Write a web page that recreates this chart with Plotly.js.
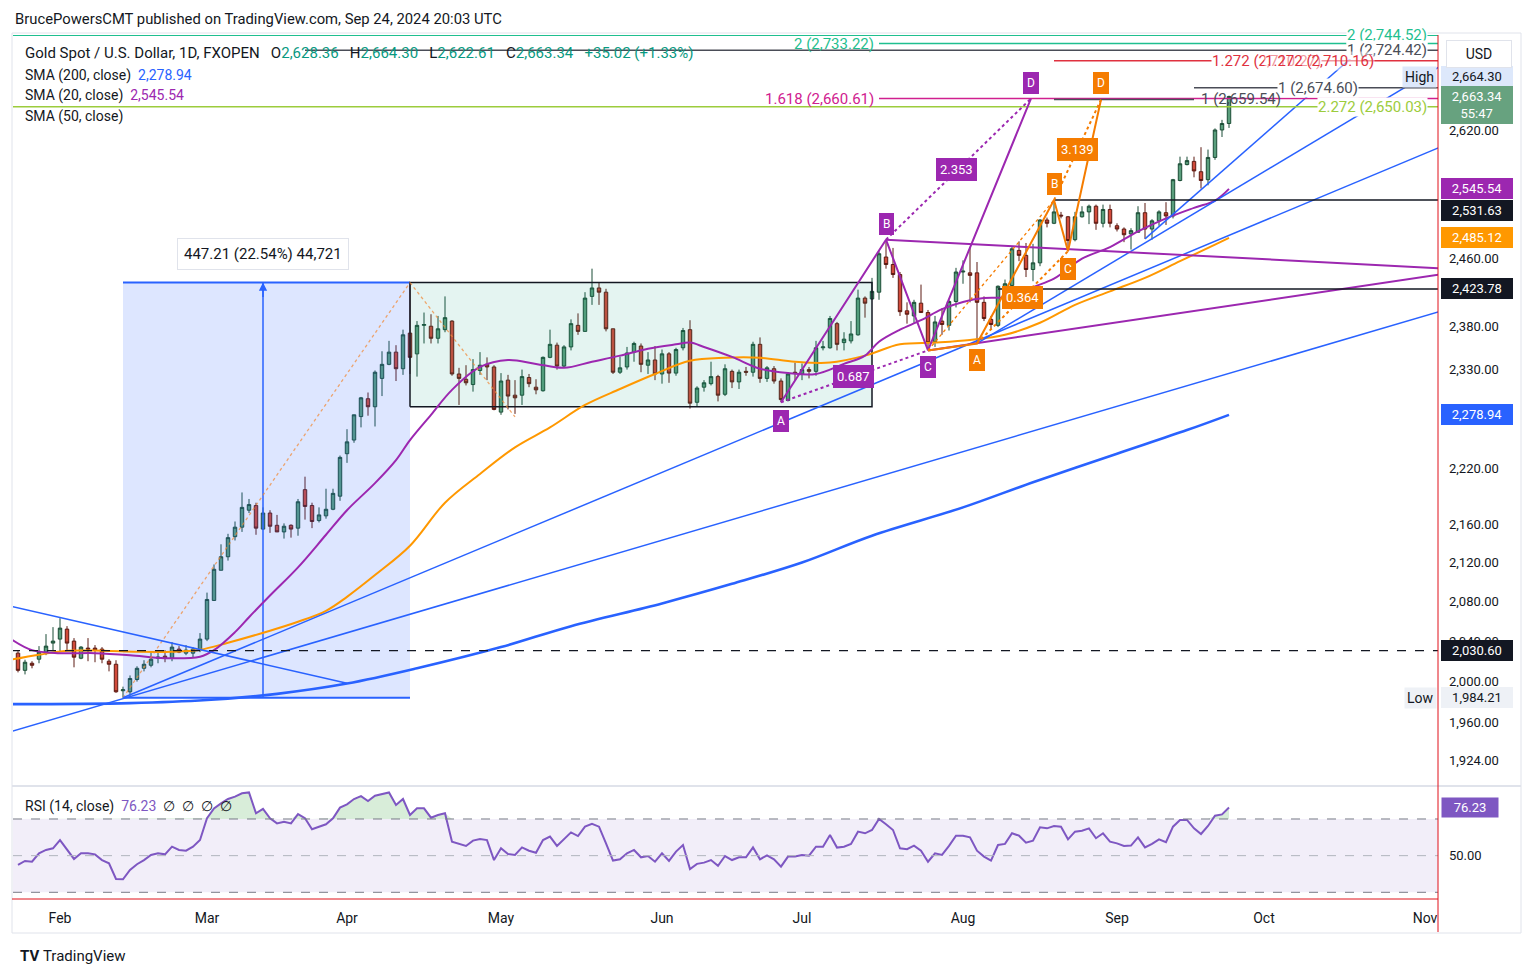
<!DOCTYPE html>
<html>
<head>
<meta charset="utf-8">
<script src="https://cdn.plot.ly/plotly-3.0.1.min.js"></script>
<style>
  html, body { margin: 0; padding: 0; background: #fff; }
  #plot { width: 1533px; height: 978px; }
</style>
</head>
<body>
<div id="plot"></div>
<script>
// Gold Spot / U.S. Dollar, 1D, FXOPEN - 24 Jan to 24 Sep 2024

var opens = [
  2028, 2011, 2018, 2022, 2029, 2038,
  2042, 2052, 2040, 2023, 2033, 2033, 2032, 2020, 2017, 1991, 1990, 2002, 2013, 2016, 2023, 2025, 2023, 2032, 2028, 2028, 2031,
  2042, 2081, 2112, 2126, 2147, 2157, 2175, 2180, 2155, 2172, 2159, 2152, 2159, 2156, 2197, 2180, 2164, 2169, 2176, 2190,
  2236, 2251, 2277, 2297, 2288, 2320, 2336, 2350, 2331, 2372, 2348, 2381, 2380, 2366, 2376, 2386, 2325, 2319, 2313, 2329, 2336, 2333,
  2282, 2318, 2301, 2301, 2321, 2310, 2306, 2344, 2358, 2334, 2356, 2381, 2374, 2415, 2425, 2420, 2377, 2327, 2333, 2350, 2357, 2335, 2341,
  2325, 2348, 2326, 2355, 2376, 2293, 2310, 2314, 2322, 2302, 2328, 2316, 2328, 2327, 2359, 2320, 2331, 2317, 2295, 2327,
  2325, 2330, 2328, 2355, 2355, 2383, 2361, 2363, 2370, 2413, 2412, 2420, 2462, 2453, 2441, 2398, 2392, 2407, 2396, 2362, 2386, 2381, 2409,
  2444, 2443, 2443, 2408, 2388, 2381, 2425, 2428, 2470, 2464, 2447, 2455, 2507, 2503, 2513, 2511, 2483, 2511, 2517, 2524, 2503, 2520,
  2500, 2496, 2490, 2492, 2516, 2496, 2506, 2516, 2512, 2556, 2576, 2580, 2567, 2557, 2585, 2620, 2628.36
];
var highs = [
  2030, 2021.5, 2020, 2035, 2047, 2054,
  2063, 2055, 2043, 2035, 2043, 2036, 2034, 2022, 2021, 1995, 2006, 2015, 2021, 2029, 2030, 2031, 2039, 2035, 2036, 2034, 2048,
  2089, 2118, 2139, 2150, 2163, 2194, 2187, 2183, 2178, 2175, 2170, 2161, 2160, 2187, 2211, 2183, 2178, 2198, 2198, 2234,
  2263, 2279, 2299, 2304, 2329, 2351, 2363, 2358, 2376, 2431.42, 2386, 2396, 2394, 2392, 2415, 2387, 2332, 2335, 2342, 2350, 2344, 2335,
  2326, 2324, 2318, 2330, 2325, 2319, 2345, 2376, 2361, 2358, 2388, 2395, 2420, 2448, 2432, 2424, 2377, 2345, 2356, 2362, 2360, 2350, 2357,
  2353, 2350, 2355, 2378, 2387, 2311, 2318, 2339, 2324, 2336, 2330, 2330, 2333, 2362, 2367, 2334, 2334, 2320, 2327, 2338,
  2337, 2333, 2363, 2363, 2392, 2385, 2373, 2386, 2423, 2415, 2437, 2469, 2483, 2473, 2444, 2408, 2411, 2429, 2399, 2392, 2401, 2411, 2449,
  2458, 2474, 2456, 2415, 2392, 2428, 2435, 2475, 2481, 2479, 2478, 2508, 2510, 2531.63, 2517, 2512, 2517, 2524, 2526, 2526, 2526, 2526,
  2503, 2498, 2497, 2524, 2528, 2508, 2519, 2529, 2558, 2586, 2586, 2586, 2598, 2595, 2622, 2633, 2664.30
];
var lows = [
  2009, 2007, 2013, 2018, 2026, 2031,
  2029, 2031, 2014, 2022, 2020, 2019, 2018, 2010, 1989, 1984.21, 1986, 2000, 2010, 2014, 2018, 2019, 2020, 2028, 2026, 2024, 2029,
  2040, 2081, 2112, 2122, 2143, 2152, 2172, 2149, 2154, 2151, 2152, 2145, 2146, 2148, 2165, 2156, 2162, 2166, 2175, 2185,
  2226, 2248, 2265, 2278, 2266, 2300, 2335, 2317, 2324, 2325, 2322, 2360, 2360, 2360, 2373, 2323, 2290, 2312, 2305, 2324, 2318, 2284,
  2279, 2285, 2280, 2290, 2310, 2302, 2305, 2343, 2330, 2332, 2352, 2370, 2374, 2405, 2405, 2374, 2325, 2325, 2330, 2339, 2327, 2325, 2318,
  2314, 2315, 2323, 2352, 2286, 2288, 2305, 2312, 2294, 2300, 2309, 2308, 2323, 2322, 2315, 2316, 2314, 2293, 2294, 2318,
  2318, 2320, 2323, 2352, 2354, 2352, 2352, 2360, 2369, 2390, 2411, 2411, 2448, 2437, 2392, 2383, 2384, 2396, 2353, 2356, 2370, 2375, 2402,
  2430, 2408, 2360, 2386, 2377, 2379, 2423, 2423, 2457, 2438, 2433, 2451, 2498, 2502, 2509, 2469, 2481, 2510, 2502, 2495, 2498, 2498,
  2493, 2480, 2471, 2492, 2484, 2483, 2500, 2501, 2509, 2555, 2575, 2560, 2546, 2550, 2582, 2611, 2622.61
];
var closes = [
  2011, 2019, 2016, 2029, 2035, 2040,
  2053, 2038, 2024, 2034, 2032, 2031, 2022, 2017, 1990, 1992, 2003, 2013, 2017, 2022, 2024, 2023, 2034, 2029, 2031, 2032, 2042,
  2082, 2113, 2126, 2146, 2157, 2178, 2181, 2156, 2172, 2158, 2152, 2158, 2155, 2184, 2179, 2163, 2170, 2176, 2193, 2232,
  2249, 2279, 2298, 2288, 2327, 2336, 2350, 2331, 2370, 2344, 2381, 2382, 2366, 2377, 2390, 2325, 2320, 2315, 2330, 2335, 2333, 2285,
  2317, 2300, 2298, 2322, 2314, 2307, 2344, 2359, 2334, 2356, 2383, 2374, 2413, 2425, 2420, 2377, 2327, 2332, 2349, 2360, 2336, 2341, 2325,
  2348, 2326, 2353, 2375, 2292, 2309, 2315, 2322, 2301, 2331, 2316, 2327, 2327, 2359, 2320, 2332, 2317, 2296, 2325, 2326,
  2330, 2328, 2355, 2356, 2389, 2359, 2365, 2371, 2413, 2407, 2421, 2466, 2453, 2441, 2397, 2394, 2408, 2396, 2361, 2385, 2382, 2409, 2444,
  2445, 2440, 2408, 2389, 2382, 2427, 2430, 2472, 2464, 2447, 2455, 2507, 2503, 2517, 2512, 2482, 2511, 2517, 2524, 2503, 2520, 2503,
  2496, 2489, 2494, 2516, 2496, 2506, 2517, 2512, 2557, 2577, 2581, 2568, 2556, 2585, 2620, 2628.32, 2663.34
];
var rsi = [
  44.9, 47.1, 46.7, 51.3, 53.1, 54.0,
  58.5, 53.1, 48.2, 51.3, 51.3, 50.7, 47.6, 45.8, 37.3, 37.1, 42.2, 45.3, 47.6, 50.4, 51.3, 50.7, 54.9, 53.1, 52.7, 54.9, 58.5,
  70.4, 75.8, 78.5, 80.9, 82.2, 84.0, 84.5, 73.1, 75.5, 70.4, 67.6, 68.5, 67.6, 72.7, 70.4, 64.4, 65.8, 67.1, 70.4, 76.2,
  78.0, 80.9, 82.5, 79.8, 82.7, 83.5, 84.5, 77.6, 80.9, 72.2, 75.8, 75.8, 70.7, 72.2, 73.1, 57.6, 56.4, 55.3, 58.2, 59.1, 58.5, 47.6,
  54.0, 50.9, 50.4, 54.5, 52.7, 51.6, 58.5, 60.4, 55.3, 59.1, 62.7, 60.7, 65.8, 67.3, 65.8, 56.7, 47.3, 48.0, 51.3, 53.1, 49.1, 49.8, 46.7,
  51.3, 47.1, 52.2, 55.8, 42.7, 45.5, 46.2, 47.6, 44.5, 49.8, 47.6, 49.1, 49.1, 54.5, 48.0, 50.2, 48.0, 44.0, 49.5, 49.5,
  50.4, 50.0, 54.9, 54.9, 61.3, 54.4, 54.9, 56.4, 63.1, 62.2, 64.0, 70.0, 67.1, 64.0, 54.0, 53.5, 55.5, 52.7, 46.7, 51.3, 50.4, 55.3, 60.9,
  60.9, 60.0, 52.7, 49.5, 47.3, 55.8, 56.4, 62.2, 60.9, 57.1, 58.2, 65.5, 64.9, 66.2, 65.8, 58.9, 63.1, 63.6, 64.9, 59.5, 62.2, 57.6,
  56.7, 55.3, 55.5, 60.0, 54.5, 56.4, 58.9, 57.3, 65.8, 69.5, 69.5, 64.9, 61.8, 66.2, 71.8, 72.5, 76.23
];

// moving averages, read at sample points
var sma20Dates = ['2024-01-23','2024-01-26','2024-02-01','2024-02-08','2024-02-15','2024-02-22','2024-02-29','2024-03-04','2024-03-07','2024-03-11','2024-03-14','2024-03-20','2024-03-26','2024-04-01','2024-04-05','2024-04-10','2024-04-12','2024-04-17','2024-04-22','2024-04-26','2024-05-02','2024-05-08','2024-05-14','2024-05-20','2024-05-24','2024-05-30','2024-06-05','2024-06-07','2024-06-11','2024-06-17','2024-06-21','2024-06-27','2024-07-03','2024-07-09','2024-07-12','2024-07-16','2024-07-19','2024-07-24','2024-07-29','2024-08-01','2024-08-06','2024-08-12','2024-08-15','2024-08-20','2024-08-26','2024-08-30','2024-09-05','2024-09-11','2024-09-17','2024-09-20','2024-09-24'];
var sma20 = [2042, 2031, 2028, 2028, 2026, 2023, 2024.5, 2031, 2049, 2064, 2086, 2115, 2149, 2175, 2204, 2229, 2251, 2279, 2307, 2333, 2341, 2336.5, 2332, 2339, 2346, 2354, 2359, 2361, 2356, 2344.5, 2331, 2326, 2325, 2336.5, 2346, 2362, 2376, 2387, 2400, 2408.5, 2413, 2414.5, 2426, 2436, 2460, 2474, 2493, 2509, 2522, 2531, 2545.54];
var sma50Dates = ['2024-01-23','2024-01-29','2024-02-02','2024-02-09','2024-02-16','2024-02-23','2024-02-29','2024-03-06','2024-03-14','2024-03-20','2024-03-26','2024-04-01','2024-04-05','2024-04-12','2024-04-19','2024-04-26','2024-05-03','2024-05-10','2024-05-17','2024-05-24','2024-05-31','2024-06-07','2024-06-14','2024-06-21','2024-06-28','2024-07-05','2024-07-12','2024-07-19','2024-07-26','2024-08-02','2024-08-09','2024-08-16','2024-08-23','2024-08-30','2024-09-06','2024-09-13','2024-09-20','2024-09-24'];
var sma50 = [2021.5, 2026.4, 2030.4, 2030.4, 2029.4, 2029.4, 2031.4, 2038.4, 2050.4, 2059.4, 2070.5, 2084.7, 2107, 2137.5, 2183, 2214, 2243, 2265, 2290, 2308, 2325, 2340, 2343.5, 2343.5, 2339, 2338, 2346, 2359, 2361, 2364, 2370, 2384, 2405, 2421, 2437, 2457, 2477, 2485.12];
var sma200Dates = ['2024-01-23','2024-02-15','2024-03-01','2024-03-15','2024-04-01','2024-04-15','2024-05-01','2024-05-15','2024-06-03','2024-06-17','2024-07-01','2024-07-15','2024-08-01','2024-08-15','2024-09-02','2024-09-16','2024-09-24'];
var sma200 = [1978, 1979, 1982, 1988, 1998, 2013, 2034, 2055, 2078, 2098, 2120, 2148, 2178, 2205, 2236, 2262, 2278.94];

// drawings
var trendBlue = [
  {d: ['2024-01-23', '2024-11-05'], p: [1951.6, 2397.0]},
  {d: ['2024-02-14', '2024-11-05'], p: [1984.21, 2597.5]},
  {d: ['2024-09-06', '2024-10-23'], p: [2484, 2743]},
  {d: ['2024-08-05', '2024-11-05'], p: [2360, 2702]},
  {d: ['2024-01-23', '2024-04-01'], p: [2075, 1998.4]}
];
var trendPurple = [
  {d: ['2024-07-17', '2024-11-05'], p: [2483, 2448.6]},
  {d: ['2024-07-25', '2024-11-05'], p: [2352, 2440.8]}
];
var purpleDates = ['2024-06-26', '2024-07-17', '2024-07-25', '2024-08-14 17:00'];
var purplePrices = [2293, 2483, 2352, 2660.61];
var orangeDates = ['2024-07-25', '2024-08-05', '2024-08-20', '2024-08-22', '2024-08-28 17:00'];
var orangePrices = [2352, 2360, 2531.63, 2469, 2659];

var measureDates = ['2024-02-14', '2024-04-12'];
var measureArrowDate = '2024-03-13';
var boxDates = ['2024-04-12', '2024-07-15'];
var boxPrices = [2288, 2431.42];
var retraceDates = ['2024-04-12', '2024-05-03'];
var retracePrices = [2431.42, 2276.7];

var levelPrices = [2531.63, 2423.78];
var levelStarts = ['2024-08-20', '2024-08-08'];
var dashedLevel = 2030.60;

var fibPrices = [2744.52, 2733.22, 2724.42, 2710.27, 2674.60, 2660.61, 2659.54, 2650.03];
var fibStarts = ['2024-01-23', '2024-07-16', '2024-03-21', '2024-08-20', '2024-09-17', '2024-07-16', '2024-08-20', '2024-01-23'];
var fibEnds   = ['2024-11-05', '2024-11-05', '2024-11-05', '2024-11-05', '2024-11-05', '2024-11-05', '2024-09-17', '2024-11-05'];
var fibColors = ['#1fbf8f', '#1fbf8f', '#4a4d57', '#e0313f', '#4a4d57', '#d0208f', '#4a4d57', '#9ccc3c'];

var yTicks = [1924, 1960, 2000, 2040, 2080, 2120, 2160, 2220, 2330, 2380, 2460, 2620];
var monthTicks = ['2024-02-01','2024-03-01','2024-04-01','2024-05-01','2024-06-03','2024-07-01','2024-08-01','2024-09-02','2024-10-01','2024-11-01'];
var monthNames = ['Feb','Mar','Apr','May','Jun','Jul','Aug','Sep','Oct','Nov'];

// trading days (weekdays, no Good Friday)
var holidays = ['2024-03-29'];
var dates = [];
var day = new Date(Date.UTC(2024, 0, 24));
while (day.getTime() <= Date.UTC(2024, 8, 24)) {
  var s = day.toISOString().slice(0, 10);
  var wd = day.getUTCDay();
  if (wd !== 0 && wd !== 6 && holidays.indexOf(s) < 0) dates.push(s);
  day.setUTCDate(day.getUTCDate() + 1);
}

var fmt = function (v) { return v.toLocaleString('en-US', {minimumFractionDigits: 2, maximumFractionDigits: 2}); };
var L10 = Math.log10;
var W = 1533, H = 978;
var px = function (x) { return x / W; };
var py = function (y) { return 1 - y / H; };

var n = closes.length;
var lastClose = closes[n - 1];
var change = lastClose - closes[n - 2];
var mLow = lows[dates.indexOf(measureDates[0])];
var mHigh = highs[dates.indexOf(measureDates[1])];

var BLUE = '#2962ff', PURPLE = '#9c27b0', ORANGE = '#ff9800', HORANGE = '#f57c00';

function seg(x, y, color, width, dash, yaxis) {
  return {type: 'scatter', mode: 'lines', x: x, y: y, yaxis: yaxis || 'y',
    line: {color: color, width: width, dash: dash || 'solid'}, hoverinfo: 'skip'};
}

var data = [];

// measure box
data.push({type: 'scatter', mode: 'lines', hoverinfo: 'skip',
  x: [measureDates[0], measureDates[1], measureDates[1], measureDates[0], measureDates[0]],
  y: [mLow, mLow, mHigh, mHigh, mLow], fill: 'toself', fillcolor: 'rgba(41,98,255,0.16)', line: {width: 0}});
data.push(seg(measureDates, [mHigh, mHigh], BLUE, 2));
data.push(seg(measureDates, [mLow, mLow], BLUE, 2));
data.push(seg([measureArrowDate, measureArrowDate], [mLow, mHigh], BLUE, 1.5));

// range box
data.push({type: 'scatter', mode: 'lines', hoverinfo: 'skip',
  x: [boxDates[0], boxDates[1], boxDates[1], boxDates[0], boxDates[0]],
  y: [boxPrices[0], boxPrices[0], boxPrices[1], boxPrices[1], boxPrices[0]],
  fill: 'toself', fillcolor: 'rgba(8,153,129,0.11)', line: {color: '#131722', width: 1.5}});

data.push({type: 'candlestick', x: dates, open: opens, high: highs, low: lows, close: closes,
  increasing: {line: {color: '#1b4d36', width: 1}, fillcolor: '#5a9e7c'},
  decreasing: {line: {color: '#5c1a12', width: 1}, fillcolor: '#d14a3a'},
  hoverinfo: 'skip', whiskerwidth: 0});

data.push({type: 'scatter', mode: 'lines', x: sma200Dates, y: sma200, line: {color: BLUE, width: 2.6, shape: 'spline'}, hoverinfo: 'skip'});
data.push({type: 'scatter', mode: 'lines', x: sma50Dates, y: sma50, line: {color: ORANGE, width: 2, shape: 'spline'}, hoverinfo: 'skip'});
data.push({type: 'scatter', mode: 'lines', x: sma20Dates, y: sma20, line: {color: PURPLE, width: 2, shape: 'spline'}, hoverinfo: 'skip'});

// dotted diagonals of the measure
data.push(seg([measureDates[0], measureDates[1]], [mLow, mHigh], 'rgba(240,140,60,0.75)', 1.3, 'dot'));
data.push(seg(retraceDates, retracePrices, 'rgba(240,140,60,0.75)', 1.3, 'dot'));

trendBlue.forEach(function (t) { data.push(seg(t.d, t.p, BLUE, 1.5)); });
trendPurple.forEach(function (t) { data.push(seg(t.d, t.p, PURPLE, 2)); });

// horizontal levels
data.push(seg(['2024-01-23', '2024-11-05'], [dashedLevel, dashedLevel], '#131722', 1.3, 'dash'));
levelPrices.forEach(function (p, i) { data.push(seg([levelStarts[i], '2024-11-05'], [p, p], '#131722', 1.6)); });
fibPrices.forEach(function (p, i) { data.push(seg([fibStarts[i], fibEnds[i]], [p, p], fibColors[i], 1.5)); });

// harmonic patterns
data.push(seg(purpleDates, purplePrices, PURPLE, 2));
data.push(seg([purpleDates[0], purpleDates[2]], [purplePrices[0], purplePrices[2]], PURPLE, 2, 'dot'));
data.push(seg([purpleDates[1], purpleDates[3]], [purplePrices[1], purplePrices[3]], PURPLE, 2, 'dot'));
data.push(seg(orangeDates, orangePrices, HORANGE, 2));
data.push(seg([orangeDates[0], orangeDates[2]], [orangePrices[0], orangePrices[2]], HORANGE, 1.3, 'dot'));
data.push(seg([orangeDates[1], orangeDates[3]], [orangePrices[1], orangePrices[3]], HORANGE, 2, 'dot'));
data.push(seg([orangeDates[2], orangeDates[4]], [orangePrices[2], orangePrices[4]], HORANGE, 2, 'dot'));

// RSI pane
var rsiTop = rsi.map(function (v) { return Math.max(v, 70); });
data.push({type: 'scatter', mode: 'lines', x: dates, y: dates.map(function () { return 70; }), yaxis: 'y2',
  line: {width: 0}, hoverinfo: 'skip'});
data.push({type: 'scatter', mode: 'lines', x: dates, y: rsiTop, yaxis: 'y2', fill: 'tonexty',
  fillcolor: 'rgba(76,175,80,0.22)', line: {width: 0}, hoverinfo: 'skip'});
data.push({type: 'scatter', mode: 'lines', x: dates, y: rsi, yaxis: 'y2',
  line: {color: '#7e57c2', width: 2}, hoverinfo: 'skip'});

// annotations
var ann = [];
var F = 'Roboto, "Liberation Sans", sans-serif';
var SP = '\u00a0\u00a0\u00a0';
function text(x, y, t, opts) {
  var a = {x: x, y: y, text: t, showarrow: false, xref: 'paper', yref: 'paper', xanchor: 'left', yanchor: 'middle',
    font: {family: F, size: 14, color: '#131722'}};
  for (var k in opts) a[k] = opts[k];
  return a;
}
function badge(x, price, t, bg, yshift, size) {
  return {x: x, y: L10(price), xref: 'x', yref: 'y', text: t, showarrow: false, yshift: yshift,
    bgcolor: bg, bordercolor: bg, borderpad: 3, font: {family: F, size: size || 12, color: '#ffffff'}};
}

ann.push(text(px(13), py(19), 'BrucePowersCMT published on TradingView.com, Sep 24, 2024 20:03 UTC',
  {font: {family: F, size: 14.8, color: '#131722'}}));
var G = function (v) { return '<span style="color:#089981">' + v + '</span>'; };
ann.push(text(px(23), py(53), 'Gold Spot / U.S. Dollar, 1D, FXOPEN' + SP + 'O' + G(fmt(opens[n - 1])) +
  SP + 'H' + G(fmt(highs[n - 1])) + SP + 'L' + G(fmt(lows[n - 1])) + SP + 'C' + G(fmt(lastClose)) +
  SP + G('+' + fmt(change) + ' (+' + (change / closes[n - 2] * 100).toFixed(2) + '%)'),
  {font: {family: F, size: 15, color: '#131722'}}));
ann.push(text(px(23), py(75), 'SMA (200, close)\u00a0\u00a0<span style="color:' + BLUE + '">' + fmt(sma200[sma200.length - 1]) + '</span>'));
ann.push(text(px(23), py(96), 'SMA (20, close)\u00a0\u00a0<span style="color:' + PURPLE + '">' + fmt(sma20[sma20.length - 1]) + '</span>'));
ann.push(text(px(23), py(117), 'SMA (50, close)'));
ann.push(text(px(23), py(806), 'RSI (14, close)\u00a0\u00a0<span style="color:#7e57c2">' + fmt(rsi[n - 1]) +
  '</span>\u00a0\u00a0\u2205\u00a0\u00a0\u2205\u00a0\u00a0\u2205\u00a0\u00a0\u2205'));

// measure label + arrow head
ann.push({x: measureArrowDate, y: L10(mHigh), xref: 'x', yref: 'y', ax: 0, ay: 16, text: '', showarrow: true,
  arrowhead: 2, arrowsize: 1.1, arrowwidth: 1.5, arrowcolor: BLUE});
var mDiff = mHigh - mLow;
ann.push({x: measureArrowDate, y: L10(mHigh), xref: 'x', yref: 'y', yshift: 29, showarrow: false,
  text: fmt(mDiff) + ' (' + (mDiff / mLow * 100).toFixed(2) + '%) ' + Math.round(mDiff * 100).toLocaleString('en-US'),
  bgcolor: '#ffffff', bordercolor: '#e0e3eb', borderpad: 6, font: {family: F, size: 15, color: '#131722'}});

// pattern labels
var pl = ['A', 'B', 'C', 'D'], ps = [-19, 16, -17, 16];
for (var i = 0; i < 4; i++) ann.push(badge(purpleDates[i], purplePrices[i], pl[i], PURPLE, ps[i]));
var os = [-17, 16, -18, 17];
for (var j = 0; j < 4; j++) ann.push(badge(orangeDates[j + 1], orangePrices[j + 1], pl[j], HORANGE, os[j]));
ann.push(badge('2024-07-10 08:00', Math.sqrt(purplePrices[0] * purplePrices[2]), '0.687', PURPLE, 0, 13));
ann.push(badge('2024-07-31 03:00', Math.sqrt(purplePrices[1] * purplePrices[3]), '2.353', PURPLE, 0, 13));
ann.push(badge('2024-08-13 12:00', Math.sqrt(orangePrices[1] * orangePrices[3]), '0.364', HORANGE, 0, 13));
ann.push(badge('2024-08-23 08:00', Math.sqrt(orangePrices[2] * orangePrices[4]), '3.139', HORANGE, 0, 13));

// fib labels
function fibLabel(i, label, x, xref, xanchor, bg, xshift) {
  return {x: x, xref: xref, y: L10(fibPrices[i]), yref: 'y', xanchor: xanchor, yanchor: 'middle', showarrow: false,
    xshift: xshift || 0, text: label + ' (' + fmt(fibPrices[i]) + ')', bgcolor: bg || 'rgba(0,0,0,0)', borderpad: 0,
    font: {family: F, size: 15, color: fibColors[i]}};
}
ann.push(fibLabel(0, '2', px(1428), 'paper', 'right', '#ffffff'));
ann.push(fibLabel(1, '2', fibStarts[1], 'x', 'right', null, -4));
ann.push(fibLabel(2, '1', px(1428), 'paper', 'right', '#ffffff'));
ann.push(fibLabel(3, '1.272', px(1322), 'paper', 'right', '#ffffff'));
ann.push({x: px(1375), xref: 'paper', y: L10(2710.16), yref: 'y', xanchor: 'right', yanchor: 'middle', showarrow: false,
  text: '1.272 (' + fmt(2710.16) + ')', bgcolor: 'rgba(255,255,255,0.5)', borderpad: 0,
  font: {family: F, size: 15, color: fibColors[3]}});
ann.push(fibLabel(4, '1', px(1318), 'paper', 'center', '#ffffff'));
ann.push(fibLabel(5, '1.618', fibStarts[5], 'x', 'right', null, -4));
ann.push(fibLabel(6, '1', fibEnds[6], 'x', 'left', null, 6));
ann.push(fibLabel(7, '2.272', px(1428), 'paper', 'right', '#ffffff'));

// price axis badges
function axisBadge(price, t, bg, color, shift, anchor) {
  return {x: px(1441), xref: 'paper', xanchor: 'left', y: L10(price), yref: 'y', yanchor: anchor || 'middle',
    yshift: shift || 0, text: t, showarrow: false, bgcolor: bg, bordercolor: bg, borderpad: 2, width: 66,
    font: {family: F, size: 13, color: color || '#ffffff'}};
}
ann.push(axisBadge(highs[n - 1], fmt(highs[n - 1]), '#dde8fb', '#131722', 19));
ann.push(axisBadge(lastClose, fmt(lastClose) + '<br>55:47', '#67a27f', '#ffffff', 10, 'top'));
ann.push(axisBadge(sma20[sma20.length - 1], fmt(sma20[sma20.length - 1]), PURPLE));
ann.push(axisBadge(levelPrices[0], fmt(levelPrices[0]), '#131722', '#ffffff', -10));
ann.push(axisBadge(sma50[sma50.length - 1], fmt(sma50[sma50.length - 1]), ORANGE));
ann.push(axisBadge(levelPrices[1], fmt(levelPrices[1]), '#131722'));
ann.push(axisBadge(sma200[sma200.length - 1], fmt(sma200[sma200.length - 1]), BLUE));
ann.push(axisBadge(dashedLevel, fmt(dashedLevel), '#131722'));
ann.push(axisBadge(mLow, fmt(mLow), '#eef1f6', '#131722'));
ann.push({x: px(1437), xref: 'paper', xanchor: 'right', y: L10(highs[n - 1]), yref: 'y', yanchor: 'middle', yshift: 19,
  showarrow: false, text: 'High', bgcolor: '#dde8fb', borderpad: 2, font: {family: F, size: 14, color: '#131722'}});
ann.push({x: px(1437), xref: 'paper', xanchor: 'right', y: L10(mLow), yref: 'y', yanchor: 'middle', showarrow: false,
  text: 'Low', bgcolor: '#eef1f6', borderpad: 2, font: {family: F, size: 14, color: '#131722'}});
ann.push({x: px(1441), xref: 'paper', xanchor: 'left', y: rsi[n - 1], yref: 'y2', yanchor: 'middle', showarrow: false,
  text: fmt(rsi[n - 1]), bgcolor: '#7e57c2', borderpad: 2, width: 52, font: {family: F, size: 13, color: '#ffffff'}});
ann.push({x: px(1479), xref: 'paper', xanchor: 'center', y: py(54), yref: 'paper', yanchor: 'middle', showarrow: false,
  text: 'USD', width: 62, height: 24, bgcolor: '#ffffff', bordercolor: '#e0e3eb', borderwidth: 1, borderpad: 1,
  font: {family: F, size: 14, color: '#131722'}});
ann.push(text(px(18), py(956), '<b>TV</b>\u00a0TradingView', {font: {family: F, size: 15, color: '#131722'}}));

var shapes = [
  {type: 'rect', xref: 'x domain', yref: 'y2', x0: 0, x1: 1, y0: 30, y1: 70, fillcolor: 'rgba(126,87,194,0.1)', line: {width: 0}, layer: 'below'},
  {type: 'line', xref: 'x domain', yref: 'y2', x0: 0, x1: 1, y0: 70, y1: 70, line: {color: '#787b86', width: 1, dash: 'dash'}},
  {type: 'line', xref: 'x domain', yref: 'y2', x0: 0, x1: 1, y0: 50, y1: 50, line: {color: '#b2b5be', width: 1, dash: 'dash'}},
  {type: 'line', xref: 'x domain', yref: 'y2', x0: 0, x1: 1, y0: 30, y1: 30, line: {color: '#787b86', width: 1, dash: 'dash'}},
  {type: 'rect', xref: 'paper', yref: 'paper', x0: px(12), x1: px(1521), y0: py(33), y1: py(933), line: {color: '#e0e3eb', width: 1}},
  {type: 'line', xref: 'paper', yref: 'paper', x0: px(12), x1: px(1521), y0: py(786), y1: py(786), line: {color: '#e0e3eb', width: 2}},
  {type: 'line', xref: 'paper', yref: 'paper', x0: px(1438), x1: px(1438), y0: py(35), y1: py(932), line: {color: '#e0101a', width: 1}},
  {type: 'line', xref: 'paper', yref: 'paper', x0: px(12), x1: px(1438), y0: py(899), y1: py(899), line: {color: '#e0101a', width: 1}}
];

var layout = {
  width: W, height: H, margin: {l: 0, r: 0, t: 0, b: 0},
  paper_bgcolor: '#ffffff', plot_bgcolor: '#ffffff',
  font: {family: F, size: 13, color: '#131722'},
  showlegend: false, hovermode: false,
  xaxis: {
    type: 'date', domain: [px(13), px(1438)], anchor: 'y2',
    range: ['2024-01-23 06:51', '2024-11-04 20:34'],
    rangebreaks: [{bounds: ['sat', 'mon']}, {values: holidays}],
    rangeslider: {visible: false},
    tickvals: monthTicks, ticktext: monthNames, ticks: '', ticklabelstandoff: 8,
    tickfont: {size: 14}, showgrid: false, zeroline: false, showline: false, fixedrange: true
  },
  yaxis: {
    type: 'log', domain: [py(786), py(35)], anchor: 'x', side: 'right',
    range: [L10(1900.3), L10(2744.7)],
    tickvals: yTicks, ticktext: yTicks.map(fmt), ticks: '', ticklabelstandoff: 10,
    showgrid: false, zeroline: false, showline: false, fixedrange: true
  },
  yaxis2: {
    domain: [py(900), py(786)], anchor: 'x', side: 'right', range: [25.8, 88.0],
    tickvals: [50], ticktext: ['50.00'], ticks: '', ticklabelstandoff: 10,
    showgrid: false, zeroline: false, showline: false, fixedrange: true
  },
  shapes: shapes,
  annotations: ann
};

Plotly.newPlot('plot', data, layout, {displayModeBar: false, staticPlot: true});
</script>
</body>
</html>
